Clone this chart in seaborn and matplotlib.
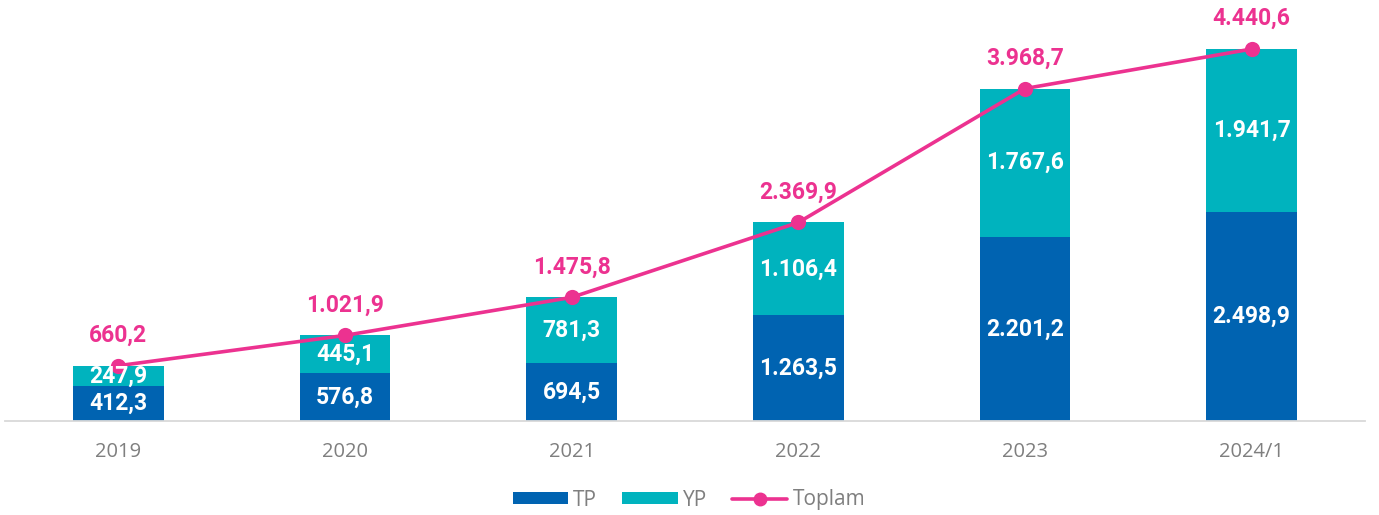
import matplotlib
matplotlib.use("Agg")
import matplotlib.pyplot as plt
import seaborn as sns
import numpy as np
from matplotlib.patches import Patch
from matplotlib.lines import Line2D

categories = ["2019", "2020", "2021", "2022", "2023", "2024/1"]
tp = [412.3, 576.8, 694.5, 1263.5, 2201.2, 2498.9]
yp = [247.9, 445.1, 781.3, 1106.4, 1767.6, 1941.7]
toplam = [660.2, 1021.9, 1475.8, 2369.9, 3968.7, 4440.6]

C_TP = "#0063B1"
C_YP = "#00B3BE"
C_TOT = "#EC3290"
C_GRAY = "#7F7F7F"

def fmt(v):
    s = f"{v:,.1f}"
    return s.replace(",", "X").replace(".", ",").replace("X", ".")

sns.set_theme(style="white")
plt.rcParams["font.family"] = ["Roboto", "DejaVu Sans"]

fig = plt.figure(figsize=(13.79, 5.15), dpi=100)
ax = fig.add_axes([5 / 1379, 94 / 515, 1360 / 1379, 416 / 515])

totals_bar = [a + b for a, b in zip(tp, yp)]
sns.barplot(x=categories, y=totals_bar, color=C_YP, width=0.4, saturation=1, ax=ax, linewidth=0)
sns.barplot(x=categories, y=tp, color=C_TP, width=0.4, saturation=1, ax=ax, linewidth=0)
sns.pointplot(x=categories, y=toplam, color=C_TOT, markers="o", markersize=9, linewidth=2.6, ax=ax)

ax.set_xlim(-0.5, 5.5)
ax.set_ylim(0, 4966)

for i in range(len(categories)):
    ax.text(i, tp[i] / 2, fmt(tp[i]), ha="center", va="center", color="white",
            fontsize=16.5, fontweight="bold")
    ax.text(i, tp[i] + yp[i] / 2, fmt(yp[i]), ha="center", va="center", color="white",
            fontsize=16.5, fontweight="bold")
    ax.annotate(fmt(toplam[i]), (i, toplam[i]), xytext=(0, 22), textcoords="offset points",
                ha="center", va="center", color=C_TOT, fontsize=16.5, fontweight="bold")

for s in ["top", "right", "left"]:
    ax.spines[s].set_visible(False)
ax.spines["bottom"].set_color("#D9D9D9")
ax.spines["bottom"].set_linewidth(1.3)
ax.set_yticks([])
ax.set_xlabel("")
ax.set_ylabel("")
ax.tick_params(axis="x", length=0, pad=15)
for lab in ax.get_xticklabels():
    lab.set_fontfamily(["Open Sans", "DejaVu Sans"])
    lab.set_fontsize(14.5)
    lab.set_color(C_GRAY)

handles = [
    Patch(facecolor=C_TP, edgecolor="none", label="TP"),
    Patch(facecolor=C_YP, edgecolor="none", label="YP"),
    Line2D([0], [0], color=C_TOT, lw=2.6, marker="o", markersize=9, label="Toplam"),
]
leg = fig.legend(handles=handles, loc="center", bbox_to_anchor=(689 / 1379, 1 - 500 / 515),
                 ncol=3, frameon=False, handlelength=2.65, handleheight=0.55,
                 columnspacing=1.2, handletextpad=0.25,
                 prop={"family": ["Open Sans", "DejaVu Sans"], "size": 15})
for t in leg.get_texts():
    t.set_color(C_GRAY)

fig.savefig("out.png", dpi=100)
